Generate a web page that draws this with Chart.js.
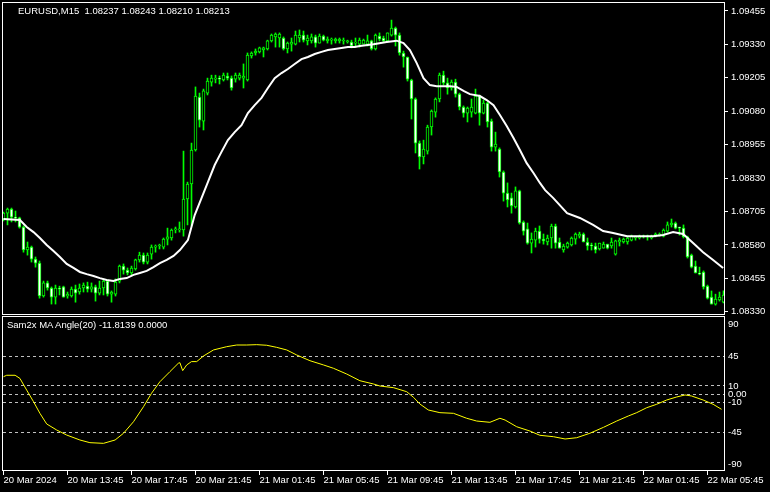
<!DOCTYPE html>
<html>
<head>
<meta charset="utf-8">
<script src="https://cdn.jsdelivr.net/npm/chart.js@4.4.1/dist/chart.umd.min.js"></script>
<style>
  html, body { margin: 0; padding: 0; background: #000; }
  #wrap { position: relative; width: 770px; height: 492px; background: #000; overflow: hidden; }
  canvas { position: absolute; left: 0; }
  #priceCanvas { top: 0; }
  #angleCanvas { top: 315px; }
  .lbl { position: absolute; color: #fff; font: 9.5px "Liberation Sans", Arial, sans-serif; white-space: pre; line-height: 10px; }
</style>
</head>
<body>
<div id="wrap">
  <canvas id="priceCanvas" width="770" height="315"></canvas>
  <canvas id="angleCanvas" width="770" height="177"></canvas>
  <div class="lbl" style="left:18px; top:6px">EURUSD,M15  1.08237 1.08243 1.08210 1.08213</div>
  <div class="lbl" style="left:7px; top:320px">Sam2x MA Angle(20) -11.8139 0.0000</div>
</div>
<script>
// EURUSD M15, one bar every 15 min from 20 Mar 09:45
const opens = [
  1.08677,1.08699,1.08714,1.08684,1.08681,1.08647,1.08561,1.08572,1.08527,1.08512,
  1.08389,1.08438,1.08419,1.08385,1.08419,1.08423,1.08389,1.08389,1.08415,1.08404,
  1.08419,1.08426,1.08415,1.08423,1.08400,1.08419,1.08445,1.08396,1.08396,1.08445,
  1.08501,1.08486,1.08475,1.08490,1.08524,1.08542,1.08516,1.08546,1.08572,1.08576,
  1.08572,1.08602,1.08606,1.08636,1.08636,1.08636,1.08752,1.08808,1.08935,1.09133,
  1.09043,1.09148,1.09189,1.09200,1.09204,1.09197,1.09212,1.09204,1.09200,1.09204,
  1.09204,1.09197,1.09287,1.09298,1.09302,1.09309,1.09313,1.09343,1.09358,1.09354,
  1.09354,1.09313,1.09331,1.09331,1.09354,1.09365,1.09343,1.09343,1.09358,1.09335,
  1.09361,1.09343,1.09346,1.09343,1.09343,1.09343,1.09339,1.09339,1.09335,1.09331,
  1.09331,1.09331,1.09343,1.09313,1.09361,1.09354,1.09343,1.09365,1.09391,1.09365,
  1.09298,1.09283,1.09197,1.09126,1.08961,1.08909,1.08931,1.09021,1.09077,1.09126,
  1.09215,1.09186,1.09167,1.09189,1.09144,1.09096,1.09073,1.09077,1.09073,1.09137,
  1.09073,1.09111,1.09043,1.08946,1.08939,1.08853,1.08774,1.08756,1.08722,1.08782,
  1.08666,1.08640,1.08587,1.08598,1.08632,1.08602,1.08591,1.08606,1.08651,1.08591,
  1.08561,1.08572,1.08580,1.08602,1.08613,1.08621,1.08591,1.08580,1.08576,1.08565,
  1.08568,1.08583,1.08576,1.08546,1.08591,1.08591,1.08591,1.08598,1.08606,1.08606,
  1.08610,1.08610,1.08606,1.08613,1.08617,1.08613,1.08632,1.08655,1.08662,1.08647,
  1.08643,1.08610,1.08542,1.08501,1.08475,1.08479,1.08426,1.08385,1.08359,1.08374,
  1.08366
];
const highs = [
  1.08703,1.08718,1.08718,1.08707,1.08684,1.08651,1.08591,1.08576,1.08535,1.08520,
  1.08445,1.08445,1.08423,1.08430,1.08426,1.08426,1.08404,1.08423,1.08430,1.08434,
  1.08438,1.08441,1.08438,1.08430,1.08445,1.08453,1.08449,1.08408,1.08453,1.08505,
  1.08509,1.08494,1.08501,1.08527,1.08553,1.08550,1.08550,1.08580,1.08580,1.08583,
  1.08606,1.08643,1.08640,1.08647,1.08666,1.08931,1.08815,1.08961,1.09171,1.09148,
  1.09163,1.09204,1.09215,1.09215,1.09212,1.09223,1.09223,1.09212,1.09223,1.09223,
  1.09257,1.09298,1.09302,1.09313,1.09320,1.09320,1.09346,1.09369,1.09373,1.09373,
  1.09358,1.09339,1.09354,1.09380,1.09384,1.09380,1.09365,1.09369,1.09365,1.09369,
  1.09365,1.09358,1.09354,1.09354,1.09354,1.09354,1.09346,1.09346,1.09354,1.09354,
  1.09350,1.09365,1.09346,1.09369,1.09373,1.09361,1.09373,1.09421,1.09395,1.09373,
  1.09305,1.09283,1.09200,1.09130,1.08969,1.08972,1.09028,1.09085,1.09130,1.09223,
  1.09230,1.09204,1.09197,1.09200,1.09148,1.09100,1.09096,1.09126,1.09163,1.09141,
  1.09122,1.09115,1.09051,1.09002,1.08943,1.08857,1.08812,1.08774,1.08797,1.08785,
  1.08670,1.08662,1.08625,1.08643,1.08651,1.08621,1.08617,1.08658,1.08658,1.08606,
  1.08583,1.08591,1.08610,1.08625,1.08628,1.08625,1.08606,1.08587,1.08587,1.08587,
  1.08591,1.08583,1.08606,1.08598,1.08606,1.08606,1.08613,1.08617,1.08613,1.08617,
  1.08617,1.08617,1.08617,1.08625,1.08625,1.08640,1.08666,1.08677,1.08666,1.08647,
  1.08655,1.08613,1.08546,1.08520,1.08497,1.08483,1.08430,1.08408,1.08396,1.08404,
  1.08408
];
const lows = [
  1.08670,1.08655,1.08666,1.08666,1.08643,1.08553,1.08542,1.08516,1.08497,1.08381,
  1.08385,1.08411,1.08359,1.08359,1.08393,1.08385,1.08381,1.08385,1.08366,1.08396,
  1.08404,1.08404,1.08404,1.08370,1.08393,1.08393,1.08389,1.08366,1.08389,1.08438,
  1.08471,1.08468,1.08468,1.08486,1.08516,1.08509,1.08509,1.08527,1.08553,1.08565,
  1.08565,1.08580,1.08598,1.08625,1.08628,1.08613,1.08655,1.08651,1.08931,1.09021,
  1.09010,1.09141,1.09174,1.09186,1.09182,1.09193,1.09197,1.09159,1.09189,1.09197,
  1.09167,1.09193,1.09279,1.09290,1.09298,1.09283,1.09309,1.09339,1.09320,1.09320,
  1.09309,1.09298,1.09305,1.09328,1.09339,1.09339,1.09328,1.09335,1.09320,1.09335,
  1.09343,1.09335,1.09331,1.09335,1.09335,1.09331,1.09335,1.09317,1.09320,1.09320,
  1.09331,1.09324,1.09309,1.09309,1.09343,1.09339,1.09339,1.09361,1.09324,1.09290,
  1.09245,1.09193,1.09051,1.08924,1.08864,1.08883,1.08920,1.08991,1.09058,1.09115,
  1.09178,1.09144,1.09159,1.09133,1.09085,1.09058,1.09040,1.09058,1.09070,1.09028,
  1.09070,1.09021,1.08931,1.08931,1.08834,1.08744,1.08722,1.08699,1.08718,1.08658,
  1.08617,1.08583,1.08550,1.08572,1.08587,1.08583,1.08580,1.08568,1.08568,1.08568,
  1.08553,1.08568,1.08576,1.08583,1.08606,1.08591,1.08561,1.08561,1.08550,1.08561,
  1.08568,1.08565,1.08568,1.08542,1.08576,1.08587,1.08583,1.08595,1.08598,1.08602,
  1.08606,1.08598,1.08602,1.08610,1.08613,1.08610,1.08628,1.08647,1.08640,1.08617,
  1.08606,1.08531,1.08494,1.08475,1.08468,1.08415,1.08378,1.08359,1.08355,1.08370,
  1.08363
];
const closes = [
  1.08699,1.08714,1.08684,1.08681,1.08647,1.08561,1.08572,1.08527,1.08512,1.08389,
  1.08438,1.08419,1.08385,1.08419,1.08415,1.08385,1.08396,1.08415,1.08400,1.08419,
  1.08430,1.08415,1.08423,1.08400,1.08419,1.08445,1.08396,1.08404,1.08441,1.08501,
  1.08486,1.08475,1.08494,1.08524,1.08542,1.08516,1.08542,1.08572,1.08576,1.08580,
  1.08602,1.08610,1.08636,1.08640,1.08640,1.08752,1.08808,1.08935,1.09137,1.09047,
  1.09156,1.09193,1.09204,1.09204,1.09200,1.09215,1.09204,1.09167,1.09215,1.09215,
  1.09212,1.09290,1.09298,1.09305,1.09317,1.09317,1.09343,1.09365,1.09369,1.09369,
  1.09313,1.09335,1.09339,1.09365,1.09365,1.09346,1.09354,1.09358,1.09335,1.09361,
  1.09346,1.09350,1.09350,1.09350,1.09350,1.09346,1.09343,1.09324,1.09339,1.09346,
  1.09346,1.09343,1.09313,1.09365,1.09350,1.09343,1.09373,1.09391,1.09365,1.09298,
  1.09283,1.09200,1.09126,1.08961,1.08909,1.08939,1.09021,1.09081,1.09126,1.09215,
  1.09186,1.09167,1.09189,1.09144,1.09096,1.09073,1.09092,1.09096,1.09137,1.09073,
  1.09111,1.09040,1.08946,1.08957,1.08853,1.08774,1.08748,1.08726,1.08782,1.08662,
  1.08632,1.08587,1.08602,1.08632,1.08602,1.08595,1.08606,1.08651,1.08587,1.08568,
  1.08576,1.08587,1.08606,1.08621,1.08621,1.08591,1.08576,1.08576,1.08561,1.08587,
  1.08583,1.08568,1.08591,1.08595,1.08598,1.08602,1.08606,1.08613,1.08610,1.08613,
  1.08613,1.08613,1.08613,1.08621,1.08621,1.08636,1.08655,1.08662,1.08643,1.08643,
  1.08610,1.08535,1.08497,1.08475,1.08471,1.08423,1.08381,1.08359,1.08378,1.08385,
  1.08393
];

// white moving average, read at these bar positions
const maBar = [0,4.1,5.8,7.5,9.1,10.8,12.5,14.1,15.8,17.5,19.1,20.8,22.5,24.1,25.8,27.5,29.1,30.8,32.5,34.1,
  35.8,37.5,39.1,40.8,42.5,44.1,46.1,47.8,49.5,51.1,52.8,54.5,56.1,57.8,59.5,61.1,62.8,64.5,66.1,67.8,
  69.5,71.1,72.8,74.5,76.1,77.8,79.5,81.1,82.8,84.5,86.1,87.8,89.1,92.5,95.8,98.3,100,101.6,103.3,105,
  106.6,108.3,110,111.6,113.3,115,116.6,119.1,120.8,122.5,124.1,125.8,127.5,129.1,130.8,132.5,134.1,135.4,137.4,140.9,
  144.1,147.4,149.9,152.4,155.9,159.1,162.4,164.9,167.4,169.9,172.4,174.9,177.4,179.9];
const maVal = [1.08677,1.08673,1.08647,1.08628,1.08606,1.08580,1.08557,1.08535,1.08509,1.08494,1.08479,1.08471,1.08464,1.08456,1.08449,1.08445,1.08453,1.08456,1.08468,1.08475,
  1.08483,1.08497,1.08512,1.08524,1.08539,1.08561,1.08598,1.08692,1.08755,1.08815,1.08879,1.08928,1.08972,1.09002,1.09028,1.09073,1.09103,1.09130,1.09167,1.09204,
  1.09223,1.09238,1.09257,1.09275,1.09283,1.09294,1.09302,1.09309,1.09313,1.09317,1.09320,1.09320,1.09324,1.09331,1.09339,1.09344,1.09335,1.09309,1.09260,1.09204,
  1.09178,1.09174,1.09174,1.09174,1.09171,1.09156,1.09144,1.09137,1.09122,1.09103,1.09066,1.09025,1.08980,1.08935,1.08886,1.08849,1.08812,1.08785,1.08756,1.08699,
  1.08681,1.08655,1.08632,1.08625,1.08613,1.08613,1.08613,1.08617,1.08628,1.08621,1.08587,1.08553,1.08524,1.08494];

// yellow MA angle indicator
const angBar = [0,0.8,2.9,4.1,5.8,7.5,9.1,10.8,13.3,15.8,19.1,21.6,25,27.9,30,32.5,35,37,39.1,41.6,
  43.7,44.1,44.8,45.8,47,48.3,50,52.5,55.8,58.3,60.8,63.3,65.8,68.3,70.8,73.3,76.6,80,82.5,85.8,
  89.1,92.5,94.1,97.5,100.8,102.5,104.1,106.2,109.1,112.5,115.8,118.3,121.6,124.1,125.4,128.3,131.6,134.1,137.5,140.4,
  143.3,146.6,150,153.3,156.2,158.3,160.8,163.3,165.8,168.3,170.4,172,174.9,177.4,179.5];
const angVal = [21,22.7,22.7,19,5,-8.8,-22.7,-35.4,-42.6,-48.6,-54.5,-57.7,-58.5,-54.5,-46.5,-32.7,-14.8,1.2,15,27,
  37,37.7,28.2,35,39,39,45.7,52.9,56.8,58.8,58.8,59.2,58.5,56,52.9,46.9,40.1,35,31,24.2,
  16.2,12.3,9.9,7.9,3.1,-3.6,-11.6,-18.7,-21.9,-22.7,-28.6,-31.9,-33.4,-28.6,-30.7,-38.7,-43.8,-48.9,-50.6,-53.3,
  -51.8,-46.5,-39.4,-31.9,-25.9,-21.9,-16,-11.9,-6.8,-3.2,-0.8,-2,-6.8,-11.9,-17.9];

// axes
const priceTicks = [1.09455,1.09330,1.09205,1.09080,1.08955,1.08830,1.08705,1.08580,1.08455,1.08330];
const levels = [90,45,10,0,-10,-45,-90];
const levelLabels = ['90','45','10','0.00','-10','-45','-90'];
const tickBars = [0,16,32,48,64,80,96,112,128,144,160,176];
const tickLabels = ['20 Mar 2024','20 Mar 13:45','20 Mar 17:45','20 Mar 21:45','21 Mar 01:45','21 Mar 05:45',
  '21 Mar 09:45','21 Mar 13:45','21 Mar 17:45','21 Mar 21:45','22 Mar 01:45','22 Mar 05:45'];

const FONT = { family: '"Liberation Sans", Arial, sans-serif', size: 9.5 };
const LIME = '#00ff00';

// white frame round each panel
const framePlugin = {
  id: 'frame',
  afterDraw(chart) {
    const { ctx, chartArea: a } = chart;
    ctx.save();
    ctx.strokeStyle = '#ffffff';
    ctx.lineWidth = 1;
    ctx.strokeRect(a.left - 0.5, a.top - 0.5, a.right - a.left + 1, a.bottom - a.top + 1);
    ctx.restore();
  }
};

function xScale(show) {
  return {
    type: 'linear', min: -0.125, max: 180.125, offset: false, display: show,
    grid: { offset: false, drawOnChartArea: false, color: '#ffffff', tickLength: 5 },
    border: { display: false },
    afterBuildTicks: s => { s.ticks = tickBars.map(v => ({ value: v })); },
    afterFit: s => { s.height = show ? 22 : 0; s.paddingLeft = 0; s.paddingRight = 0; },
    ticks: { color: '#ffffff', font: FONT, align: 'start', padding: 0, maxRotation: 0, autoSkip: false,
      callback: (v, i) => tickLabels[i] }
  };
}

function yFit(s) {
  s.width = 46;
  s.paddingTop = 0;
  s.paddingBottom = 0;
}

// MT4 keeps the end labels inside the panel
function levelLabel(v, i) {
  const t = levelLabels[i];
  if (i === 0) return ['', t];
  if (i === levelLabels.length - 1) return [t, ''];
  return t;
}

const common = {
  responsive: false, animation: false, devicePixelRatio: 1, events: [],
  plugins: { legend: { display: false }, tooltip: { enabled: false } }
};

// PRICE PANEL
new Chart(document.getElementById('priceCanvas'), {
  type: 'bar',
  data: {
    datasets: [
      {
        type: 'line', order: 0,
        data: maBar.map((x, k) => ({ x: x, y: maVal[k] })),
        borderColor: '#ffffff', borderWidth: 2, pointRadius: 0, tension: 0
      },
      {
        order: 1, grouped: false, barThickness: 3,
        data: opens.map((o, i) => ({ x: i, y: [o, closes[i]] })),
        backgroundColor: opens.map((o, i) => closes[i] >= o ? '#000000' : '#ffffff'),
        borderColor: LIME, borderWidth: 1, borderSkipped: false
      },
      {
        order: 2, grouped: false, barThickness: 1,
        data: lows.map((l, i) => ({ x: i, y: [l, highs[i]] })),
        backgroundColor: LIME, borderWidth: 0
      }
    ]
  },
  options: Object.assign({}, common, {
    layout: { padding: { left: 3, top: 3, right: 0, bottom: 1 } },
    scales: {
      x: xScale(false),
      y: {
        position: 'right', min: 1.083218, max: 1.094849, beginAtZero: false,
        grid: { drawOnChartArea: false, color: '#ffffff', tickLength: 4 },
        border: { display: false },
        afterBuildTicks: s => { s.ticks = priceTicks.map(v => ({ value: v })); },
        afterFit: yFit,
        ticks: { color: '#ffffff', font: FONT, padding: 3, autoSkip: false, callback: v => v.toFixed(5) }
      }
    }
  }),
  plugins: [framePlugin]
});

// INDICATOR PANEL
new Chart(document.getElementById('angleCanvas'), {
  type: 'line',
  data: {
    datasets: [{
      data: angBar.map((x, k) => ({ x: x, y: angVal[k] })),
      borderColor: '#ffff00', borderWidth: 1, pointRadius: 0, tension: 0
    }]
  },
  options: Object.assign({}, common, {
    layout: { padding: { left: 3, top: 2, right: 0, bottom: 0 } },
    scales: {
      x: xScale(true),
      y: {
        position: 'right', min: -90.3, max: 92.2,
        grid: {
          drawTicks: false,
          color: c => (c.tick && Math.abs(c.tick.value) === 90) ? 'rgba(0,0,0,0)' : '#c0c0c0'
        },
        border: { display: false, dash: [3, 3] },
        afterBuildTicks: s => { s.ticks = levels.map(v => ({ value: v })); },
        afterFit: yFit,
        ticks: { color: '#ffffff', font: FONT, padding: 4, autoSkip: false, callback: levelLabel }
      }
    }
  }),
  plugins: [framePlugin]
});
</script>
</body>
</html>
